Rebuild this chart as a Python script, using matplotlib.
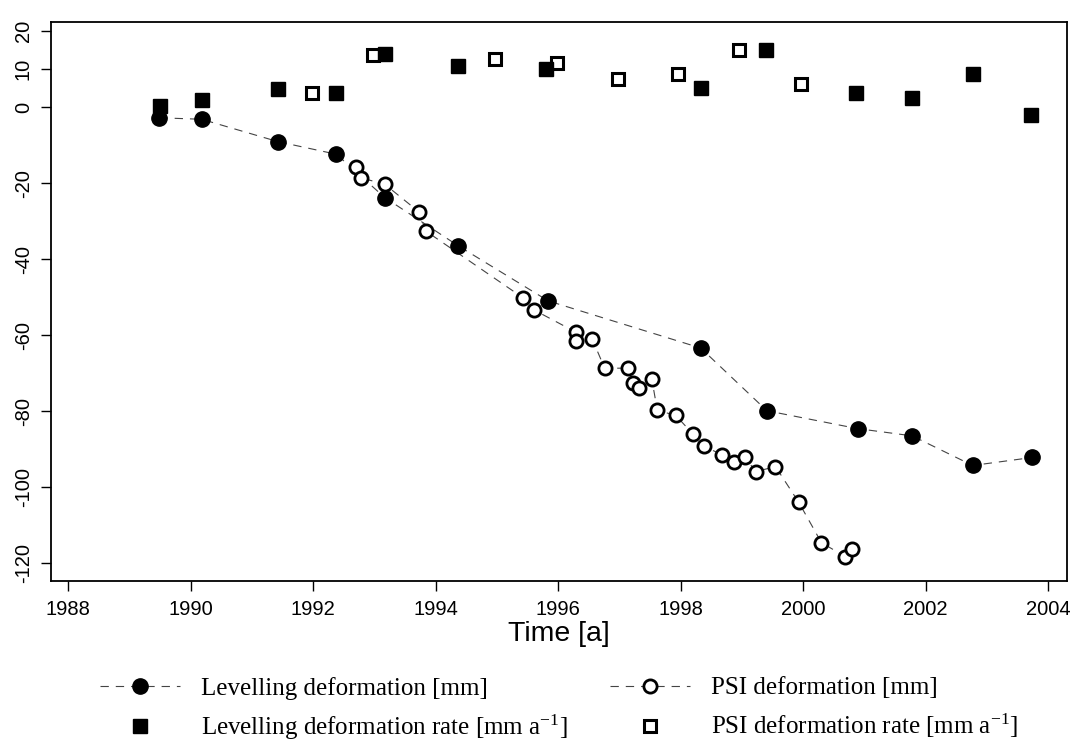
import matplotlib
matplotlib.use("Agg")
import matplotlib.pyplot as plt
from matplotlib.lines import Line2D

# Levelling campaigns: cumulative deformation [mm]
lev_years = [1989.49, 1990.18, 1991.43, 1992.38, 1993.17, 1994.37, 1995.84,
             1998.33, 1999.41, 2000.89, 2001.78, 2002.77, 2003.74]
lev_def = [-2.8, -3.2, -9.1, -12.4, -23.8, -36.5, -51.0,
           -63.4, -79.9, -84.6, -86.5, -94.3, -92.2]

# Levelling deformation rate [mm/a]
lev_rate_years = [1989.50, 1990.18, 1991.42, 1992.38, 1993.17, 1994.36, 1995.81,
                  1998.33, 1999.40, 2000.87, 2001.78, 2002.77, 2003.73]
lev_rate = [0.4, 1.8, 4.8, 3.8, 14.0, 10.9, 10.1,
            5.1, 15.1, 3.8, 2.5, 8.6, -2.2]

# PSI time series: cumulative deformation [mm]
psi_years = [1992.70, 1992.78, 1993.17, 1993.73, 1993.84, 1995.42, 1995.61,
             1996.30, 1996.30, 1996.56, 1996.76, 1997.14, 1997.23, 1997.32,
             1997.53, 1997.62, 1997.92, 1998.20, 1998.39, 1998.68, 1998.87,
             1999.05, 1999.23, 1999.55, 1999.93, 2000.30, 2000.69, 2000.80]
psi_def = [-15.8, -18.6, -20.3, -27.6, -32.6, -50.1, -53.4,
           -59.3, -61.5, -61.1, -68.7, -68.7, -72.7, -73.9,
           -71.5, -79.8, -81.1, -86.0, -89.3, -91.5, -93.5,
           -92.2, -95.9, -94.6, -104.0, -114.6, -118.3, -116.2]

# PSI deformation rate [mm/a]
psi_rate_years = [1991.98, 1992.98, 1994.97, 1995.98, 1996.98, 1997.96, 1998.96, 1999.97]
psi_rate = [3.8, 13.6, 12.7, 11.6, 7.5, 8.8, 15.1, 6.1]

x_ticks = [1988, 1990, 1992, 1994, 1996, 1998, 2000, 2002, 2004]
y_ticks = [20, 10, 0, -20, -40, -60, -80, -100, -120]

legend_labels = ["Levelling deformation [mm]",
                 "PSI deformation [mm]",
                 "Levelling deformation rate [mm a$^{-1}$]",
                 "PSI deformation rate [mm a$^{-1}$]"]

plt.rcParams["font.family"] = ["Liberation Sans", "DejaVu Sans"]
plt.rcParams["axes.unicode_minus"] = False
plt.rcParams["lines.scale_dashes"] = False
plt.rcParams["mathtext.fontset"] = "custom"
plt.rcParams["mathtext.rm"] = "Liberation Serif"
plt.rcParams["mathtext.it"] = "Liberation Serif:italic"
plt.rcParams["mathtext.default"] = "rm"

W, H = 1074, 744
fig = plt.figure(figsize=(W / 100, H / 100), dpi=100)
ax = fig.add_axes([51 / W, 1 - 581 / H, (1067 - 51) / W, (581 - 22) / H])

dash = (0, (6, 5))
line_kw = dict(color="#444444", lw=0.8, ls=dash)

ax.plot(lev_years, lev_def, **line_kw, zorder=2)
ax.plot(psi_years, psi_def, **line_kw, zorder=2)

ax.plot(lev_years, lev_def, ls="none", marker="o", ms=11,
        mfc="black", mec="black", zorder=3)
ax.plot(psi_years, psi_def, ls="none", marker="o", ms=9.5,
        mfc="white", mec="black", mew=2.0, zorder=4)

ax.plot(psi_rate_years, psi_rate, ls="none", marker="s", ms=8.5,
        mfc="white", mec="black", mew=2.2, zorder=3)
ax.plot(lev_rate_years, lev_rate, ls="none", marker="s", ms=10.5,
        mfc="black", mec="black", zorder=4)

ax.set_xlim(1987.72, 2004.31)
ax.set_ylim(-124.7, 22.4)
ax.set_xticks(x_ticks)
ax.set_yticks(y_ticks)
ax.tick_params(axis="both", direction="out", length=7, width=1.0,
               labelsize=14.5, color="black")
ax.tick_params(axis="x", pad=7)
ax.tick_params(axis="y", pad=6)
for lab in ax.get_yticklabels():
    lab.set_rotation(90)
    lab.set_va("center")
for sp in ax.spines.values():
    sp.set_linewidth(1.3)

ax.set_xlabel("Time [a]", fontsize=20.5, labelpad=1)

# legend below the plot: one column block on the left, one on the right
handles = [
    Line2D([], [], color="#444444", lw=0.8, ls=dash, marker="o", ms=11,
           mfc="black", mec="black"),
    Line2D([], [], color="#444444", lw=0.8, ls=dash, marker="o", ms=9.5,
           mfc="white", mec="black", mew=2.0),
    Line2D([], [], ls="none", marker="s", ms=10.5, mfc="black", mec="black"),
    Line2D([], [], ls="none", marker="s", ms=8.5, mfc="white", mec="black",
           mew=2.2),
]
leg_kw = dict(loc="upper left", frameon=False, borderpad=0, borderaxespad=0,
              handlelength=3.2, handletextpad=0.85, labelspacing=0.5,
              prop={"family": "Liberation Serif", "size": 18})
leg1 = fig.legend([handles[0], handles[2]], [legend_labels[0], legend_labels[2]],
                  bbox_to_anchor=(100 / W, 1 - 677 / H), **leg_kw)
leg2 = fig.legend([handles[1], handles[3]], [legend_labels[1], legend_labels[3]],
                  bbox_to_anchor=(610 / W, 1 - 677 / H), **leg_kw)

fig.savefig("out.png", dpi=100)
